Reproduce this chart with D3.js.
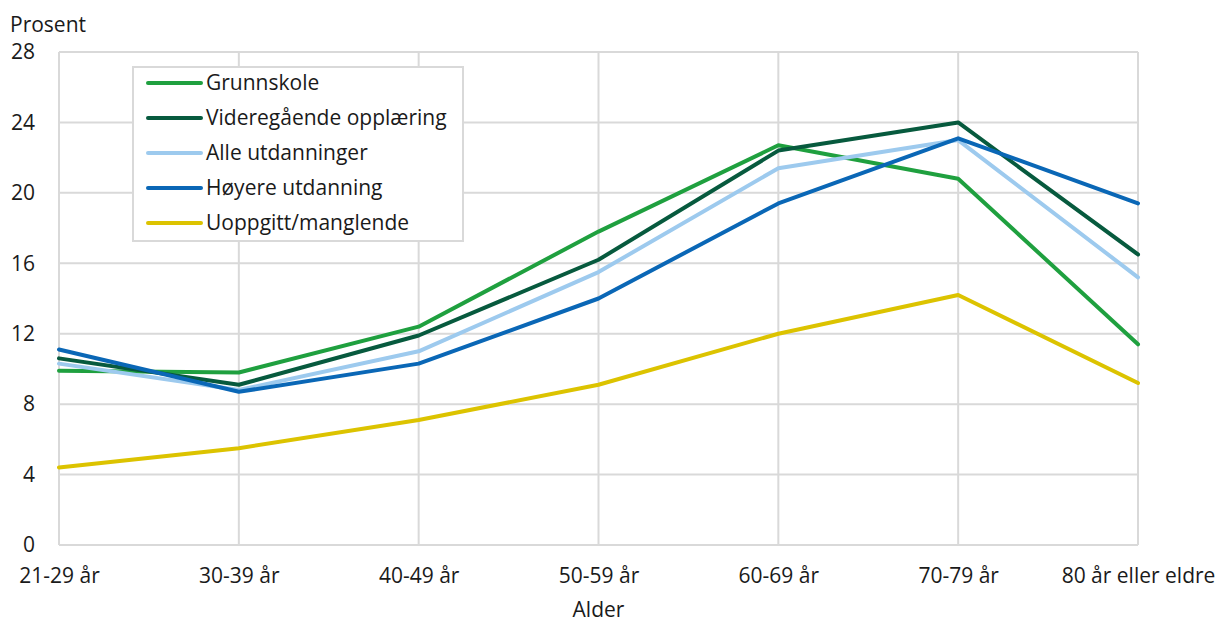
<!DOCTYPE html>
<html>
<head>
<meta charset="utf-8">
<script src="https://cdn.jsdelivr.net/npm/d3@7"></script>
<style>
  body { margin: 0; background: #fff; }
  text { font-family: "Open Sans", sans-serif; fill: #1a1a1a; }
</style>
</head>
<body>
<div id="chart"></div>
<script>
// data
const ageGroups = ["21-29 år", "30-39 år", "40-49 år", "50-59 år", "60-69 år", "70-79 år", "80 år eller eldre"];
const grunnskole = [9.9, 9.8, 12.4, 17.8, 22.7, 20.8, 11.4];
const videregaende = [10.6, 9.1, 11.9, 16.2, 22.4, 24.0, 16.5];
const alleUtdanninger = [10.3, 8.8, 11.0, 15.5, 21.4, 23.0, 15.2];
const hoyereUtdanning = [11.1, 8.7, 10.3, 14.0, 19.4, 23.1, 19.4];
const uoppgitt = [4.4, 5.5, 7.1, 9.1, 12.0, 14.2, 9.2];
const yTicks = [0, 4, 8, 12, 16, 20, 24, 28];

const series = [
  {name: "Grunnskole", values: grunnskole, color: "#1fa03f"},
  {name: "Videregående opplæring", values: videregaende, color: "#075a3e"},
  {name: "Alle utdanninger", values: alleUtdanninger, color: "#9dcaee"},
  {name: "Høyere utdanning", values: hoyereUtdanning, color: "#0a67b6"},
  {name: "Uoppgitt/manglende", values: uoppgitt, color: "#dcc300"}
];

const width = 1218, height = 622;
const margin = {top: 52, right: 80, bottom: 77, left: 59};
const fontSize = "21px";

const svg = d3.select("#chart").append("svg")
    .attr("width", width)
    .attr("height", height);

const x = d3.scalePoint()
    .domain(ageGroups)
    .range([margin.left, width - margin.right]);

const y = d3.scaleLinear()
    .domain([0, 28])
    .range([height - margin.bottom, margin.top]);

// grid
const grid = svg.append("g");
grid.selectAll("line.h").data(yTicks).enter().append("line")
    .attr("x1", margin.left).attr("x2", width - margin.right)
    .attr("y1", d => y(d)).attr("y2", d => y(d))
    .attr("stroke", "#d9d9d9").attr("stroke-width", 2);
grid.selectAll("line.v").data(ageGroups).enter().append("line")
    .attr("x1", d => x(d)).attr("x2", d => x(d))
    .attr("y1", y(0)).attr("y2", y(28))
    .attr("stroke", "#d9d9d9").attr("stroke-width", 2);

// y axis
const yAxis = svg.append("g")
    .attr("transform", `translate(${margin.left},0)`)
    .call(d3.axisLeft(y).tickValues(yTicks).tickSize(0).tickPadding(24));
yAxis.select(".domain").remove();
yAxis.selectAll("text").style("font-size", fontSize).attr("font-family", null).attr("fill", "#1a1a1a");

// x axis
const xAxis = svg.append("g")
    .attr("transform", `translate(0,${y(0)})`)
    .call(d3.axisBottom(x).tickSize(0).tickPadding(23));
xAxis.select(".domain").remove();
xAxis.selectAll("text").style("font-size", fontSize).attr("font-family", null).attr("fill", "#1a1a1a");

svg.append("text")
    .attr("x", 10).attr("y", 32)
    .style("font-size", fontSize)
    .text("Prosent");

svg.append("text")
    .attr("x", (margin.left + width - margin.right) / 2).attr("y", 617)
    .attr("text-anchor", "middle")
    .style("font-size", fontSize)
    .text("Alder");

// lines
const line = d3.line()
    .x((d, i) => x(ageGroups[i]))
    .y(d => y(d));

svg.append("g").selectAll("path").data(series).enter().append("path")
    .attr("d", d => line(d.values))
    .attr("fill", "none")
    .attr("stroke", d => d.color)
    .attr("stroke-width", 4)
    .attr("stroke-linejoin", "round")
    .attr("stroke-linecap", "round");

// legend
const legend = svg.append("g").attr("transform", "translate(133,67)");
legend.append("rect")
    .attr("width", 330).attr("height", 174)
    .attr("fill", "#fff")
    .attr("stroke", "#d9d9d9").attr("stroke-width", 2);

const items = legend.selectAll("g.item").data(series).enter().append("g")
    .attr("transform", (d, i) => `translate(0,${16 + i * 35})`);
items.append("line")
    .attr("x1", 15).attr("x2", 68)
    .attr("stroke", d => d.color)
    .attr("stroke-width", 4)
    .attr("stroke-linecap", "round");
items.append("text")
    .attr("x", 73).attr("y", 7)
    .style("font-size", fontSize)
    .text(d => d.name);
</script>
</body>
</html>
